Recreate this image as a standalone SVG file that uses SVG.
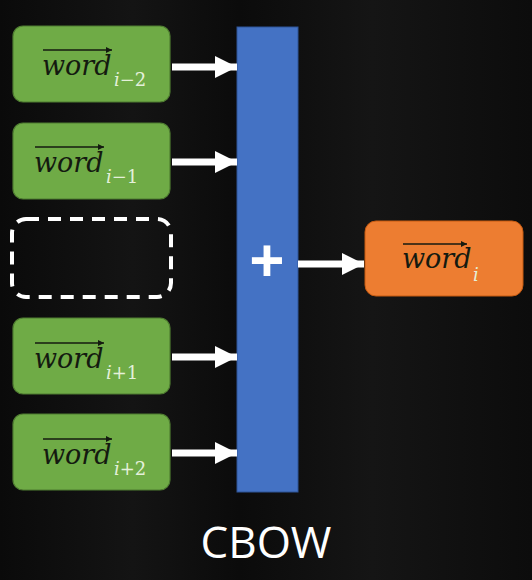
<svg xmlns="http://www.w3.org/2000/svg" width="532" height="580" viewBox="0 0 532 580">
<style>
.g{fill:#6fab46;stroke:#4f7d31;stroke-width:1.2}
.w{font-family:"DejaVu Serif","Liberation Serif",serif;font-style:italic;font-size:27px;fill:#141a10}
.sub{font-family:"DejaVu Serif","Liberation Serif",serif;font-size:18px;fill:#e4f0da}
.ov{stroke:#141a10;stroke-width:1.6;fill:none}
.c{stroke:#fff;stroke-width:7;fill:none}
</style>
<defs>
<linearGradient id="bg" x1="0" y1="0" x2="1" y2="0">
<stop offset="0" stop-color="#0a0a0a"/>
<stop offset="0.25" stop-color="#141414"/>
<stop offset="0.45" stop-color="#0b0b0b"/>
<stop offset="0.7" stop-color="#151515"/>
<stop offset="1" stop-color="#0c0c0c"/>
</linearGradient>
<marker id="ah" markerUnits="userSpaceOnUse" markerWidth="24" markerHeight="24" refX="22" refY="11" orient="auto">
<path d="M0,0 L22,11 L0,22 Z" fill="#fff"/>
</marker>
<marker id="oa" markerUnits="userSpaceOnUse" markerWidth="8" markerHeight="8" refX="6" refY="3" orient="auto">
<path d="M0,0 L6,3 L0,6 Z" fill="#141a10"/>
</marker>
</defs>
<rect width="532" height="580" fill="url(#bg)"/>

<g id="word-i-2">
<rect class="g" x="13" y="26" width="157" height="76" rx="10"/>
<path class="ov" d="M43,50 H112" marker-end="url(#oa)"/>
<text class="w" x="42" y="75">word</text>
<text class="sub" x="114" y="86" font-style="italic">i<tspan font-style="normal">−2</tspan></text>
</g>
<g id="word-i-1">
<rect class="g" x="13" y="123" width="157" height="76" rx="10"/>
<path class="ov" d="M35,147 H104" marker-end="url(#oa)"/>
<text class="w" x="34" y="172">word</text>
<text class="sub" x="106" y="183" font-style="italic">i<tspan font-style="normal">−1</tspan></text>
</g>
<g id="missing">
<rect x="12" y="219" width="159" height="78" rx="14" fill="none" stroke="#fff" stroke-width="4" stroke-dasharray="13,9"/>
</g>
<g id="word-i+1">
<rect class="g" x="13" y="318" width="157" height="76" rx="10"/>
<path class="ov" d="M35,343 H104" marker-end="url(#oa)"/>
<text class="w" x="34" y="368">word</text>
<text class="sub" x="106" y="379" font-style="italic">i<tspan font-style="normal">+1</tspan></text>
</g>
<g id="word-i+2">
<rect class="g" x="13" y="414" width="157" height="76" rx="10"/>
<path class="ov" d="M43,439 H112" marker-end="url(#oa)"/>
<text class="w" x="42" y="464">word</text>
<text class="sub" x="114" y="475" font-style="italic">i<tspan font-style="normal">+2</tspan></text>
</g>

<g id="sum">
<rect x="237" y="27" width="61" height="465" fill="#4472c4" stroke="#2f5597" stroke-width="1"/>
<text x="267" y="283" text-anchor="middle" font-family="'Open Sans','DejaVu Sans',sans-serif" font-weight="bold" font-size="62" fill="#fff">+</text>
</g>

<g id="word-i">
<rect x="365" y="221" width="158" height="75" rx="11" fill="#ed7d31" stroke="#c55a11" stroke-width="1"/>
<path class="ov" d="M403,244 H467" stroke="#2a1608" marker-end="url(#oa)"/>
<text class="w" x="402" y="268" fill="#241307">word</text>
<text class="sub" x="473" y="281" font-style="italic" fill="#fbe5d6">i</text>
</g>

<g id="connectors">
<path class="c" d="M172,67 H237" marker-end="url(#ah)"/>
<path class="c" d="M172,162 H237" marker-end="url(#ah)"/>
<path class="c" d="M172,357 H237" marker-end="url(#ah)"/>
<path class="c" d="M172,453 H237" marker-end="url(#ah)"/>
<path class="c" d="M298,264 H364" marker-end="url(#ah)"/>
</g>

<text x="266" y="558" text-anchor="middle" font-family="'Open Sans','Noto Sans',sans-serif" font-size="44" fill="#fff">CBOW</text>
</svg>
